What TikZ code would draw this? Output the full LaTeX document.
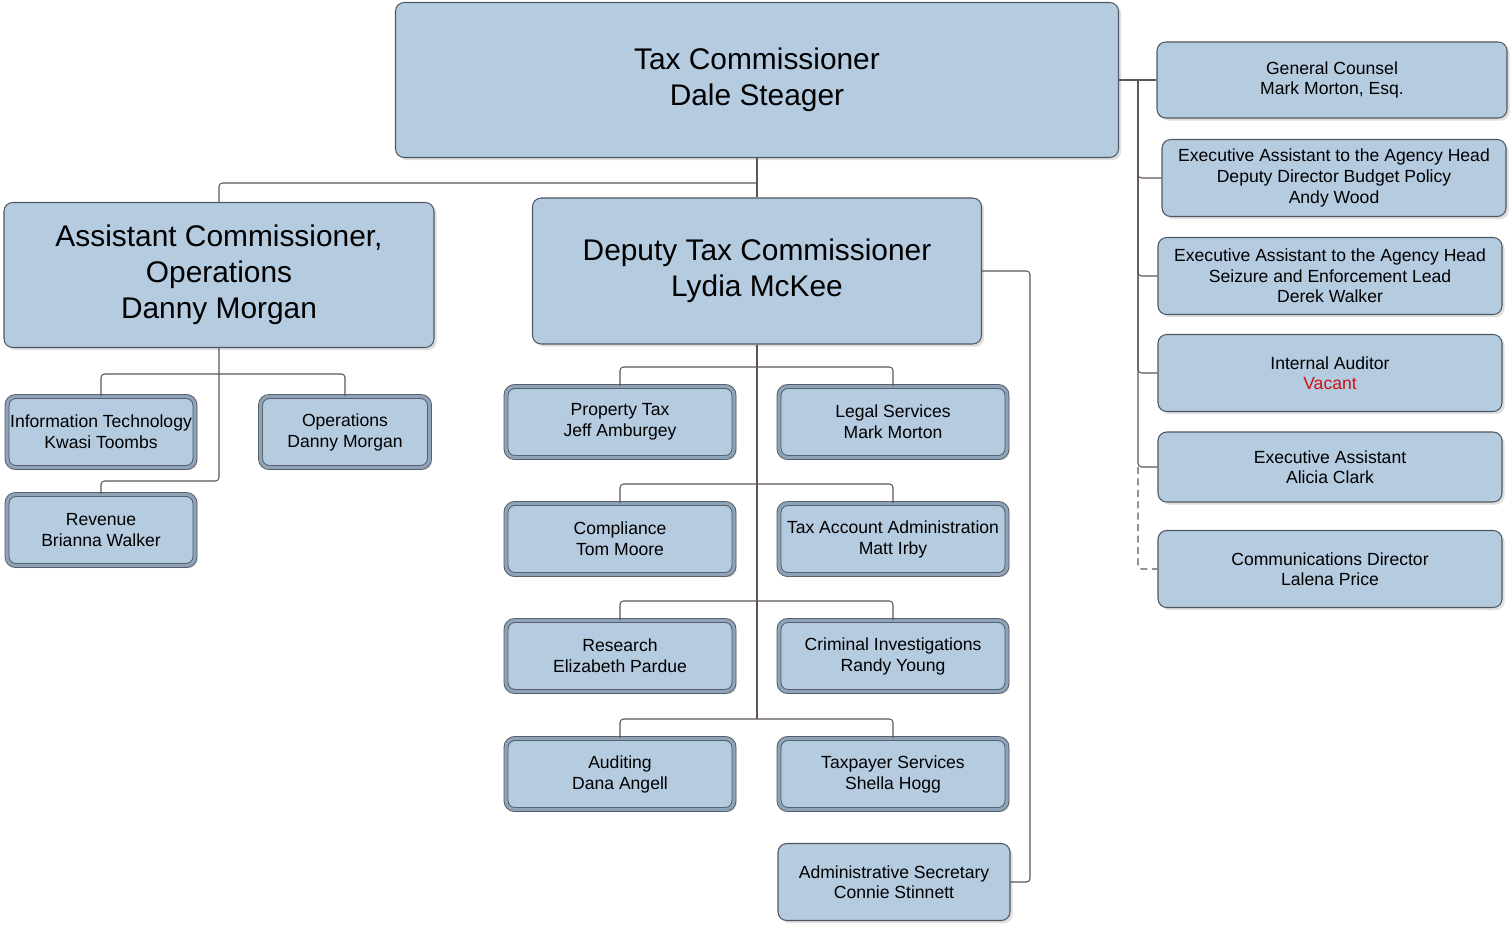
\documentclass[tikz,border=0pt]{standalone}
\usepackage{fontspec}
\setmainfont{Liberation Sans}
\usepackage{tikz}
\usetikzlibrary{positioning,shadows}

\definecolor{boxfill}{HTML}{B5CBE0}
\definecolor{boxline}{HTML}{4F5862}
\definecolor{boxband}{HTML}{8FA3B8}
\definecolor{wirecol}{HTML}{5E5552}
\definecolor{vacant}{HTML}{D01010}

\tikzset{
  headbox/.style={draw=boxline, fill=boxfill, rounded corners=5pt, line width=0.6pt,
    align=center, font=\fontsize{17}{20.5}\selectfont,
    drop shadow={shadow xshift=1.5pt, shadow yshift=-1.5pt, opacity=0.25}},
  unitbox/.style={draw=boxline, double=boxband, double distance=1.8pt, fill=boxfill,
    rounded corners=5pt, line width=0.5pt, align=center, inner sep=0pt,
    font=\fontsize{10}{12}\selectfont, minimum width=45.6mm, minimum height=14.2mm,
    drop shadow={shadow xshift=1.5pt, shadow yshift=-1.5pt, opacity=0.25}},
  staffbox/.style={draw=boxline, fill=boxfill, rounded corners=5pt, line width=0.6pt,
    align=center, inner sep=0pt, font=\fontsize{10}{11.7}\selectfont,
    minimum width=68.8mm, minimum height=15.4mm,
    drop shadow={shadow xshift=1.5pt, shadow yshift=-1.5pt, opacity=0.25}},
  wire/.style={draw=wirecol, line width=0.6pt, rounded corners=2pt}
}

\begin{document}
\begin{tikzpicture}[x=0.2mm, y=-0.2mm]
    \useasboundingbox (0,0) rectangle (1510,925);

    % Head of the agency and the two commissioners under it
    \node[headbox, minimum width=144.6mm, minimum height=31mm] (tc) at (757,80) {Tax Commissioner\\Dale Steager};
    \node[headbox, minimum width=86mm, minimum height=29mm] (ac) at (219,275) {Assistant Commissioner,\\Operations\\Danny Morgan};
    \node[headbox, minimum width=89.8mm, minimum height=29.2mm] (dtc) at (757,271) {Deputy Tax Commissioner\\Lydia McKee};

    \coordinate (tcbus) at (757,183);
    \draw[wire] (tc.south) -- (dtc.north);
    \draw[wire] (tcbus) -| (ac.north);

    % Staff reporting straight to the commissioner
    \node[staffbox, minimum width=70mm, minimum height=15.2mm] (gc) at (1332,80) {General Counsel\\Mark Morton, Esq.};
    \node[staffbox] (ea1) at (1334,178) {Executive Assistant to the Agency Head\\Deputy Director Budget Policy\\Andy Wood};
    \node[staffbox] (ea2) at (1330,276) {Executive Assistant to the Agency Head\\Seizure and Enforcement Lead\\Derek Walker};
    \node[staffbox] (ia) at (1330,373) {Internal Auditor\\\textcolor{vacant}{Vacant}};
    \node[staffbox, minimum height=14mm] (ea3) at (1330,467) {Executive Assistant\\Alicia Clark};
    \node[staffbox] (comm) at (1330,569) {Communications Director\\Lalena Price};

    \coordinate (spine) at (1138,80);
    \draw[wire] (tc.east) -- (spine) -- (gc.west);
    \foreach \n in {ea1,ea2,ia,ea3}
      \draw[wire] (spine) |- (\n.west);
    \draw[wire, dash pattern=on 4pt off 2.5pt] (spine |- ea3.west) |- (comm.west);

    % Operations side
    \node[unitbox, minimum width=37.6mm] (it) at (101,432) {Information Technology\\Kwasi Toombs};
    \node[unitbox, minimum width=33.8mm] (ops) at (345,432) {Operations\\Danny Morgan};
    \node[unitbox, minimum width=37.6mm] (rev) at (101,530) {Revenue\\Brianna Walker};

    \coordinate (acbus) at (219,374);
    \coordinate (acdrop) at (219,481);
    \draw[wire] (ac.south) -- (acdrop) -| (rev.north);
    \draw[wire] (acbus) -| (it.north);
    \draw[wire] (acbus) -| (ops.north);

    % Divisions under the deputy
    \foreach \ln/\rn/\yy/\lt/\lw/\rt/\rw in {
      ptax/legal/422/Property Tax/Jeff Amburgey/Legal Services/Mark Morton,
      comp/taxacct/539/Compliance/Tom Moore/Tax Account Administration/Matt Irby,
      research/crim/656/Research/Elizabeth Pardue/Criminal Investigations/Randy Young,
      audit/tpserv/774/Auditing/Dana Angell/Taxpayer Services/Shella Hogg} {
      \node[unitbox] (\ln) at (620,\yy) {\lt\\\lw};
      \node[unitbox] (\rn) at (893,\yy) {\rt\\\rw};
      \coordinate (bus\ln) at (757,\yy-55);
      \draw[wire] (bus\ln) -| (\ln.north);
      \draw[wire] (bus\ln) -| (\rn.north);
    }
    \draw[wire] (dtc.south) -- (busaudit);

    \node[staffbox, minimum width=46.4mm] (adminsec) at (894,882) {Administrative Secretary\\Connie Stinnett};
    \coordinate (dtcrail) at (1030,271);
    \draw[wire] (dtc.east) -- (dtcrail) |- (adminsec.east);

\end{tikzpicture}
\end{document}
